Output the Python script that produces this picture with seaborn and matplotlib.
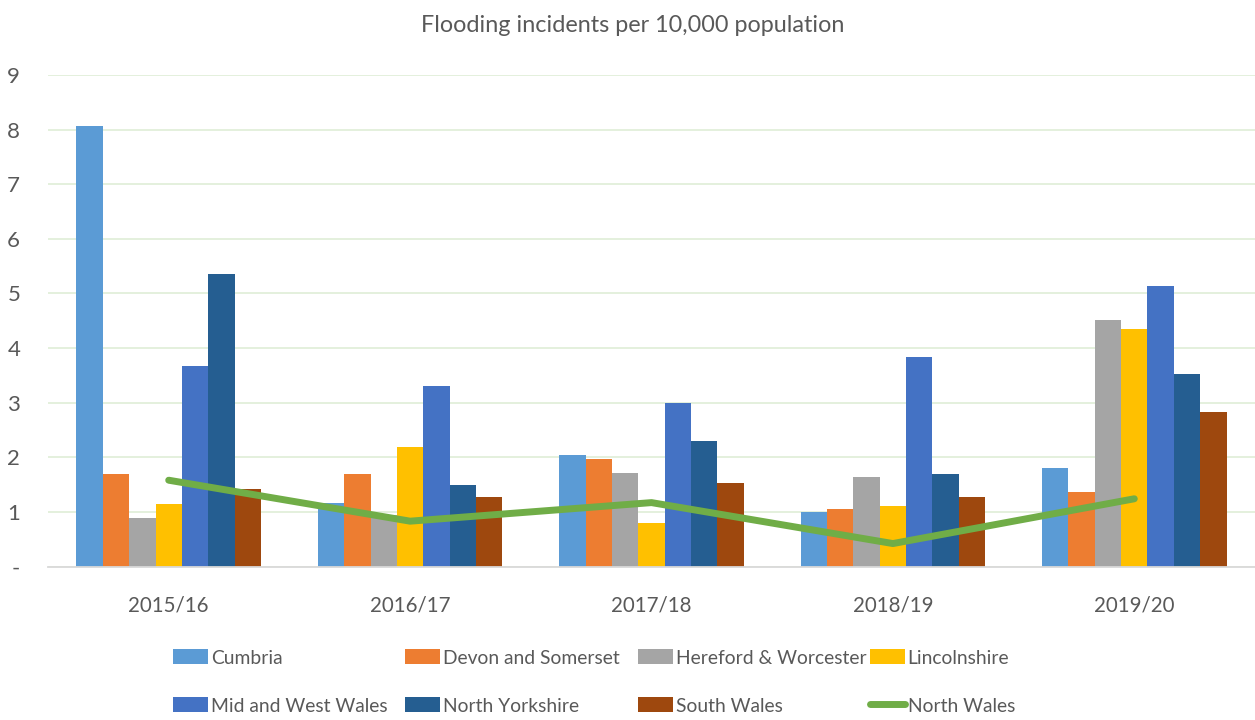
import matplotlib
matplotlib.use("Agg")
import matplotlib.pyplot as plt
from matplotlib.patches import Patch
from matplotlib.lines import Line2D
import pandas as pd
import seaborn as sns

# Flooding incidents per 10,000 population by fire & rescue area
years = ["2015/16", "2016/17", "2017/18", "2018/19", "2019/20"]
cumbria = [8.07, 1.17, 2.05, 0.99, 1.80]
devon_somerset = [1.69, 1.69, 1.97, 1.06, 1.37]
hereford_worcester = [0.89, 0.95, 1.72, 1.64, 4.52]
lincolnshire = [1.14, 2.18, 0.80, 1.10, 4.35]
mid_west_wales = [3.67, 3.31, 2.99, 3.83, 5.13]
north_yorkshire = [5.35, 1.49, 2.29, 1.70, 3.52]
south_wales = [1.41, 1.27, 1.53, 1.27, 2.83]
north_wales = [1.58, 0.83, 1.17, 0.42, 1.24]

bar_series = {
    "Cumbria": cumbria,
    "Devon and Somerset": devon_somerset,
    "Hereford & Worcester": hereford_worcester,
    "Lincolnshire": lincolnshire,
    "Mid and West Wales": mid_west_wales,
    "North Yorkshire": north_yorkshire,
    "South Wales": south_wales,
}
bar_colors = ["#5B9BD5", "#ED7D31", "#A5A5A5", "#FFC000",
              "#4472C4", "#255E91", "#9E480E"]
line_color = "#70AD47"
text_color = "#595959"

bars_df = pd.DataFrame(
    [(y, name, v) for name, vals in bar_series.items() for y, v in zip(years, vals)],
    columns=["year", "area", "rate"],
)
line_df = pd.DataFrame({"year": years, "rate": north_wales})

sns.set_theme(style="white")
plt.rcParams["font.family"] = ["Lato", "DejaVu Sans"]

fig = plt.figure(figsize=(12.55, 7.2), dpi=100)
ax = fig.add_axes([48 / 1255, 1 - 566.5 / 720, 1207 / 1255, (566.5 - 75) / 720])

sns.barplot(data=bars_df, x="year", y="rate", hue="area", order=years,
            hue_order=list(bar_series.keys()), palette=bar_colors,
            width=0.765, gap=0, linewidth=0, saturation=1,
            errorbar=None, legend=False, ax=ax, zorder=2)

sns.pointplot(data=line_df, x="year", y="rate", order=years, color=line_color,
              markers="", linewidth=5, errorbar=None, ax=ax)
for ln in ax.lines:
    ln.set_solid_capstyle("round")
    ln.set_zorder(3)

ax.set_xlim(-0.5, 4.5)
ax.set_ylim(0, 9)
ax.set_yticks(range(10))
ax.set_yticklabels(["-"] + [str(i) for i in range(1, 10)])
ax.yaxis.grid(True, color="#E2EFDA", linewidth=1.3)
ax.set_axisbelow(True)
for side in ["top", "right", "left"]:
    ax.spines[side].set_visible(False)
ax.spines["bottom"].set_color("#D9D9D9")
ax.spines["bottom"].set_linewidth(1.3)
ax.tick_params(axis="y", length=0, pad=20, labelsize=16, labelcolor=text_color)
ax.tick_params(axis="x", length=0, pad=21, labelsize=14.8, labelcolor=text_color)
ax.set_xlabel("")
ax.set_ylabel("")

fig.text(0.504, 1 - 25 / 720, "Flooding incidents per 10,000 population",
         ha="center", va="center", fontsize=16.8, color=text_color)

names = list(bar_series.keys())
handles = [Patch(facecolor=c, edgecolor="none", label=n) for n, c in zip(names, bar_colors)]
handles.append(Line2D([0], [0], color=line_color, linewidth=5,
                      solid_capstyle="round", label="North Wales"))

# legend laid out as four equal-width columns, two entries each (rows read left to right)
col_x = [173, 405, 638, 870]
for c, x in enumerate(col_x):
    col_handles = [handles[c], handles[c + 4]]
    fig.legend(col_handles, [h.get_label() for h in col_handles],
               loc="center left", bbox_to_anchor=(x / 1255, 1 - 682 / 720),
               frameon=False, fontsize=13.9, labelcolor=text_color,
               handlelength=1.8, handleheight=0.8, handletextpad=0.15,
               labelspacing=1.6, borderpad=0, borderaxespad=0)

fig.savefig("out.png", dpi=100)
